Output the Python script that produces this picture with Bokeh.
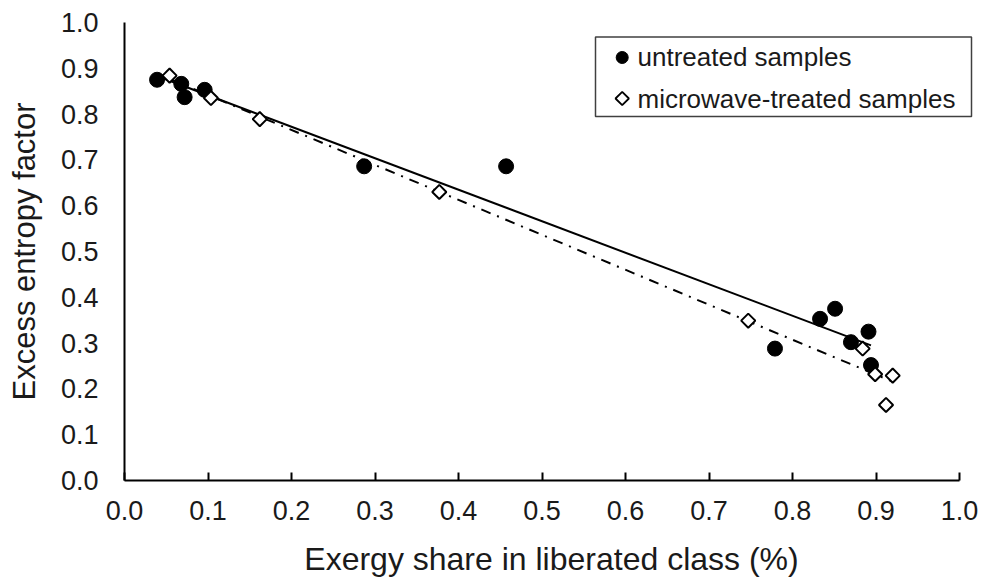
import numpy as np
from bokeh.plotting import figure
from bokeh.models import ColumnDataSource, Range1d, FixedTicker, CustomJSTickFormatter
from bokeh.core.properties import value
from bokeh.embed import file_html
from bokeh.resources import INLINE

# Data
untreated_x = [0.039, 0.068, 0.072, 0.096, 0.287, 0.457, 0.779, 0.833, 0.851, 0.870, 0.891, 0.894]
untreated_y = [0.875, 0.866, 0.837, 0.853, 0.686, 0.686, 0.288, 0.353, 0.375, 0.302, 0.325, 0.252]
treated_x = [0.054, 0.1035, 0.162, 0.377, 0.747, 0.884, 0.899, 0.920, 0.912]
treated_y = [0.884, 0.835, 0.789, 0.630, 0.349, 0.288, 0.232, 0.229, 0.165]
ticks = [0.0, 0.1, 0.2, 0.3, 0.4, 0.5, 0.6, 0.7, 0.8, 0.9, 1.0]
series_labels = ["untreated samples", "microwave-treated samples"]

FONT = "Liberation Sans"
TXT = "#1a1a1a"

W, H = 982, 584
BL, BR, BT, BB = 124, 4, 22, 104
FW, FH = W - BL - BR, H - BT - BB
UNIT = 835.0  # pixels from x=0 to x=1

p = figure(width=W, height=H, output_backend="svg", toolbar_location=None,
           x_range=Range1d(0, FW / UNIT), y_range=Range1d(0, 1),
           min_border_left=BL, min_border_right=BR, min_border_top=BT, min_border_bottom=BB)
p.outline_line_color = None
p.xgrid.visible = False
p.ygrid.visible = False
p.background_fill_color = "white"
p.border_fill_color = "white"
# pixel ranges used only for the legend box
p.extra_x_ranges = {"px": Range1d(0, FW)}
p.extra_y_ranges = {"py": Range1d(0, FH)}

# trend lines (least squares fit over each series' range)
def fit_line(xs, ys):
    m, b = np.polyfit(xs, ys, 1)
    xx = np.array([min(xs), max(xs)])
    return xx, m * xx + b

ux, uy = fit_line(untreated_x, untreated_y)
tx, ty = fit_line(treated_x, treated_y)
p.line(ux, uy, line_color="black", line_width=2)
p.line(tx, ty, line_color="black", line_width=2, line_dash="10 7 2 7")

src_u = ColumnDataSource(dict(x=untreated_x, y=untreated_y))
src_t = ColumnDataSource(dict(x=treated_x, y=treated_y))
p.scatter("x", "y", source=src_u, marker="circle", size=15,
          fill_color="black", line_color="black", line_width=1)
p.scatter("x", "y", source=src_t, marker="square", size=10, angle=np.pi / 4,
          fill_color="white", line_color="black", line_width=2)

fmt = CustomJSTickFormatter(code="return tick.toFixed(1);")
for ax in (p.xaxis[0], p.yaxis[0]):
    ax.ticker = FixedTicker(ticks=ticks)
    ax.formatter = fmt
    ax.axis_line_color = "black"
    ax.axis_line_width = 2
    ax.major_label_text_font = FONT
    ax.major_label_text_font_size = "27px"
    ax.major_label_text_color = TXT
    ax.axis_label_text_font = FONT
    ax.axis_label_text_font_style = "normal"
    ax.axis_label_text_color = TXT
    ax.minor_tick_line_color = None

p.xaxis[0].bounds = (0, 1)
p.xaxis[0].axis_label = "Exergy share in liberated class (%)"
p.xaxis[0].axis_label_text_font_size = "32px"
p.xaxis[0].major_tick_in = 8
p.xaxis[0].major_tick_out = 0
p.xaxis[0].major_tick_line_color = "black"
p.xaxis[0].major_tick_line_width = 2
p.xaxis[0].major_label_standoff = 20
p.xaxis[0].axis_label_standoff = 18

p.yaxis[0].axis_label = "Excess entropy factor"
p.yaxis[0].axis_label_text_font_size = "31px"
p.yaxis[0].major_tick_line_color = None
p.yaxis[0].major_tick_in = 0
p.yaxis[0].major_tick_out = 0
p.yaxis[0].major_label_standoff = 26
p.yaxis[0].axis_label_standoff = 16

# legend (drawn in frame pixel coordinates)
bottom = H - BB
p.quad(left=[595 - BL], right=[971 - BL], bottom=[bottom - 116], top=[bottom - 36.5],
       x_range_name="px", y_range_name="py",
       fill_color="white", line_color="#404040", line_width=1.5)
sym_x = 621.7 - BL
p.scatter([sym_x], [bottom - 57], x_range_name="px", y_range_name="py", marker="circle",
          size=12, fill_color="black", line_color="black", line_width=1)
p.scatter([sym_x], [bottom - 98], x_range_name="px", y_range_name="py", marker="square",
          size=9.5, angle=np.pi / 4, fill_color="white", line_color="black", line_width=1.8)
p.text(x=[637 - BL, 637 - BL], y=[bottom - 56, bottom - 98], text=series_labels,
       x_range_name="px", y_range_name="py",
       text_font=value(FONT), text_font_size=value("26px"), text_color=TXT,
       text_align="left", text_baseline="alphabetic")

open("out.html", "w").write(file_html(p, INLINE))
